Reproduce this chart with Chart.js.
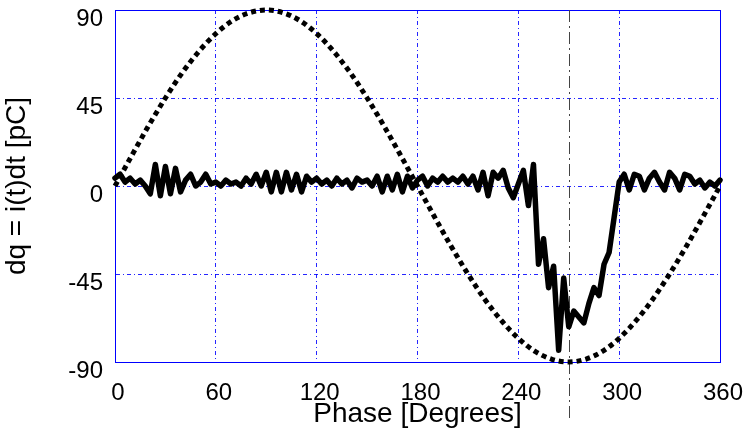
<!DOCTYPE html>
<html>
<head>
<meta charset="utf-8">
<script src="https://cdn.jsdelivr.net/npm/chart.js@4"></script>
<style>
  html, body { margin: 0; padding: 0; background: #fff; }
  #wrap { width: 747px; height: 435px; }
</style>
</head>
<body>
<div id="wrap"><canvas id="chart"></canvas></div>
<script>
// phase grid of the measured charge (every 3 degrees)
const phase = [
  0, 3, 6, 9, 12, 15, 18, 21, 24, 27, 30, 33, 36, 39, 42, 45, 48, 51, 54, 57,
  60, 63, 66, 69, 72, 75, 78, 81, 84, 87, 90, 93, 96, 99, 102, 105, 108, 111, 114, 117,
  120, 123, 126, 129, 132, 135, 138, 141, 144, 147, 150, 153, 156, 159, 162, 165, 168, 171, 174, 177,
  180, 183, 186, 189, 192, 195, 198, 201, 204, 207, 210, 213, 216, 219, 222, 225, 228, 231, 234, 237,
  240, 243, 246, 249, 252, 255, 258, 261, 264, 267, 270, 273, 276, 279, 282, 285, 288, 291, 294, 297,
  300, 303, 306, 309, 312, 315, 318, 321, 324, 327, 330, 333, 336, 339, 342, 345, 348, 351, 354, 357,
  360
];
// dq values [pC]
const charge = [
  4, 6, 2, 4, 1, 3, 0, -4, 11, -5, 10, -4, 9, -3, 3, 6, 0, 2, 6, 1,
  2, 0, 3, 1, 2, 0, 4, 1, 6, 0, 7, -3, 7, -3, 7, -2, 6, -3, 5, 2,
  4, 1, 3, 0, 4, 1, 3, -1, 4, 2, 3, 0, 5, -3, 5, -2, 6, -3, 5, -1,
  3, 5, 0, 4, 2, 5, 2, 4, 2, 5, 1, 5, -2, 7, -5, 7, 4, 8, -1, -6,
  1, 8, -10, 11, -40, -27, -52, -41, -84, -47, -72, -64, -67, -70, -60, -52, -56, -40, -34, -16,
  2, 6, -2, 6, 5, -2, 4, 7, 2, -2, 7, 4, -2, 6, 5, 1, 3, -1, 2, 0,
  3
];

// reference voltage (dotted), read every 10 degrees
const refPhase = [
  0, 10, 20, 30, 40, 50, 60, 70, 80, 90, 100, 110, 120, 130, 140, 150, 160, 170, 180,
  190, 200, 210, 220, 230, 240, 250, 260, 270, 280, 290, 300, 310, 320, 330, 340, 350, 360
];
const refWave = [
  0, 15.6, 30.8, 45, 57.9, 68.9, 77.9, 84.6, 88.6, 90, 88.6, 84.6, 77.9, 68.9, 57.9, 45, 30.8, 15.6, 0,
  -15.6, -30.8, -45, -57.9, -68.9, -77.9, -84.6, -88.6, -90, -88.6, -84.6, -77.9, -68.9, -57.9, -45, -30.8, -15.6, 0
];

const xTicks = [0, 60, 120, 180, 240, 300, 360];
const yTicks = [-90, -45, 0, 45, 90];
const markerPhase = 270;

const FONT = "'Liberation Sans', Arial, sans-serif";
const BLUE = 'rgba(0, 0, 255, 0.85)';

// frame round the plot and the dash-dot marker at 270 degrees
const framePlugin = {
  id: 'frame',
  beforeDatasetsDraw(chart) {
    const { ctx, chartArea: a, scales } = chart;
    ctx.save();
    ctx.strokeStyle = '#0000ff';
    ctx.lineWidth = 1;
    ctx.strokeRect(a.left + 0.5, a.top + 0.5, a.right - a.left, a.bottom - a.top);
    const x = Math.round(scales.x.getPixelForValue(markerPhase)) + 0.5;
    ctx.strokeStyle = '#444';
    ctx.setLineDash([12, 4, 2, 4]);
    ctx.beginPath();
    ctx.moveTo(x, a.top);
    ctx.lineTo(x, 418);
    ctx.stroke();
    ctx.restore();
  }
};

const ctx = document.getElementById('chart');
const chart = new Chart(ctx, {
  type: 'line',
  data: {
    datasets: [
      {
        data: phase.map((p, i) => ({ x: p, y: charge[i] })),
        borderColor: '#000',
        borderWidth: 5.5,
        pointRadius: 0,
        tension: 0,
        borderJoinStyle: 'round',
        borderCapStyle: 'round',
        clip: false
      },
      {
        data: refPhase.map((p, i) => ({ x: p, y: refWave[i] })),
        borderColor: '#000',
        borderWidth: 5,
        borderDash: [5, 4],
        borderCapStyle: 'butt',
        pointRadius: 0,
        cubicInterpolationMode: 'monotone',
        clip: false
      }
    ]
  },
  options: {
    responsive: true,
    maintainAspectRatio: false,
    animation: false,
    events: [],
    layout: { padding: { top: 10, right: 27, left: 0, bottom: 0 } },
    plugins: {
      legend: { display: false },
      tooltip: { enabled: false }
    },
    scales: {
      x: {
        type: 'linear',
        min: 0,
        max: 360,
        afterBuildTicks: s => { s.ticks = xTicks.map(v => ({ value: v })); },
        afterFit: s => { s.height = 73; s.paddingLeft = 0; s.paddingRight = 0; },
        ticks: { color: '#000', font: { family: FONT, size: 24 }, padding: 17, maxRotation: 0, labelOffset: 3 },
        grid: { color: BLUE, lineWidth: 1, drawTicks: false },
        border: { color: '#0000ff', dash: [4, 3, 1, 3] },
        title: {
          display: true,
          text: 'Phase [Degrees]',
          color: '#000',
          font: { family: FONT, size: 28 },
          padding: { top: 4, bottom: 4 }
        }
      },
      y: {
        min: -90,
        max: 90,
        afterBuildTicks: s => { s.ticks = yTicks.map(v => ({ value: v })); },
        afterFit: s => { s.width = 115; s.paddingTop = 0; s.paddingBottom = 0; },
        ticks: { color: '#000', font: { family: FONT, size: 24 }, padding: 12, labelOffset: 9 },
        grid: { color: BLUE, lineWidth: 1, drawTicks: false },
        border: { color: '#0000ff', dash: [4, 3, 1, 3] },
        title: {
          display: true,
          text: 'dq = i(t)dt [pC]',
          color: '#000',
          font: { family: FONT, size: 28 },
          padding: { top: 0, bottom: 0 }
        }
      }
    }
  },
  plugins: [framePlugin]
});
</script>
</body>
</html>
